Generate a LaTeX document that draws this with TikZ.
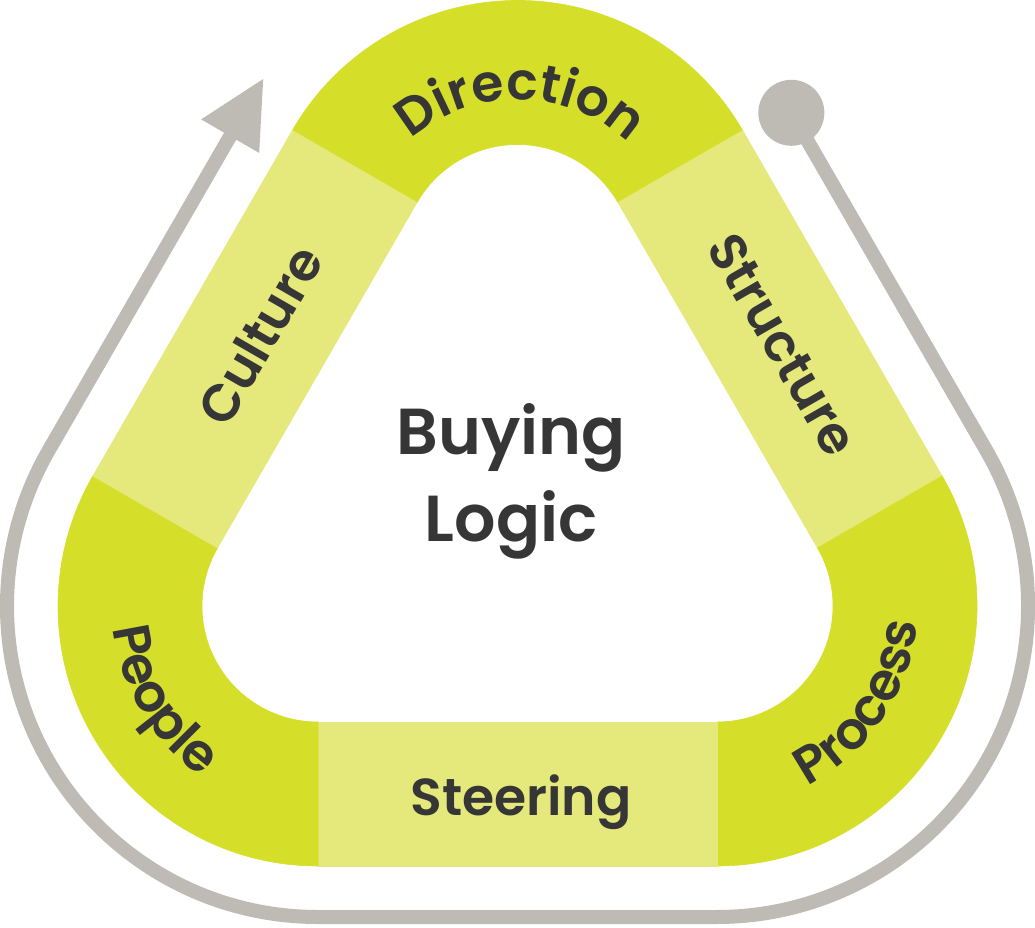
\documentclass[tikz,border=0pt]{standalone}
\usepackage{fontspec}
\setmainfont{Poppins}[BoldFont={Poppins SemiBold}]
\usetikzlibrary{calc,decorations.text}
\definecolor{limedark}{RGB}{213,223,42}
\definecolor{limelight}{RGB}{229,232,122}
\definecolor{ringgray}{RGB}{190,187,180}
\definecolor{txt}{RGB}{54,54,54}
\newcommand\lblfont{\bfseries\fontsize{52}{60}\selectfont}
\newcommand\titlefont{\bfseries\fontsize{65}{80}\selectfont}
\begin{document}
\begin{tikzpicture}[x=1pt,y=1pt,
  darkseg/.style={fill=limedark,draw=limedark,line width=0.6pt},
  lightseg/.style={fill=limelight,draw=limelight,line width=0.6pt},
  lbl/.style={text=txt,font=\lblfont,inner sep=0pt},
  title/.style={text=txt,font=\titlefont,inner sep=0pt},
  ring/.style={draw=ringgray,line width=14pt},
  curved/.style={decorate,decoration={text along path,text={|\lblfont|#1},text align=center,text color=txt}}
]
\useasboundingbox (0,0) rectangle (1035,927);
\coordinate (T) at (517.5,666.5);
\coordinate (BL) at (318,321);
\coordinate (BR) at (717,321);

% band segments
% top corner: Direction
\path[darkseg] ($(T)+(150:260pt)$) arc[start angle=150,end angle=30,radius=260pt]
  -- ($(T)+(30:116pt)$) arc[start angle=30,end angle=150,radius=116pt] -- cycle;
% right side: Structure
\path[lightseg] ($(T)+(30:116pt)$) -- ($(T)+(30:260pt)$) -- ($(BR)+(30:260pt)$) -- ($(BR)+(30:116pt)$) -- cycle;
% bottom-right corner: Process
\path[darkseg] ($(BR)+(30:260pt)$) arc[start angle=30,end angle=-90,radius=260pt]
  -- ($(BR)+(-90:116pt)$) arc[start angle=-90,end angle=30,radius=116pt] -- cycle;
% bottom side: Steering
\path[lightseg] ($(BR)+(-90:116pt)$) -- ($(BR)+(-90:260pt)$) -- ($(BL)+(-90:260pt)$) -- ($(BL)+(-90:116pt)$) -- cycle;
% bottom-left corner: People
\path[darkseg] ($(BL)+(270:260pt)$) arc[start angle=270,end angle=150,radius=260pt]
  -- ($(BL)+(150:116pt)$) arc[start angle=150,end angle=270,radius=116pt] -- cycle;
% left side: Culture
\path[lightseg] ($(BL)+(150:116pt)$) -- ($(BL)+(150:260pt)$) -- ($(T)+(150:260pt)$) -- ($(T)+(150:116pt)$) -- cycle;

% outer gray cycle line
\coordinate (C) at ($(T)+(30:311pt)+(300:9pt)$);
\coordinate (L) at ($(T)+(150:311pt)$);
\coordinate (AB) at ($(L)+(240:36pt)$);
\coordinate (AT) at ($(L)+(60:30pt)$);
\coordinate (A1) at ($(AB)+(150:33.5pt)$);
\coordinate (A2) at ($(AB)+(330:33.5pt)$);
\draw[ring] (C) -- ($(BR)+(30:311pt)$) arc[start angle=30,end angle=-90,radius=311pt]
  -- ($(BL)+(270:311pt)$) arc[start angle=270,end angle=150,radius=311pt] -- ($(AB)+(60:2pt)$);
\fill[ringgray] (A1) -- (AT) -- (A2) -- cycle;
\fill[ringgray] (C) circle[radius=33pt];

% straight labels
\node[lbl,rotate=60] (culture) at (260,592) {Culture};
\node[lbl,rotate=-60] (structure) at (783,582) {Structure};
\node[lbl,anchor=base] (steering) at (521,112) {Steering};
\node[title,anchor=base] (buying) at (511,472) {Buying};
\node[title,anchor=base] (logic) at (511,385) {Logic};

% curved labels
\path[curved=Direction] ($(T)+(149:161pt)$) arc[start angle=149,end angle=29,radius=161pt];
\path[curved=People] ($(BL)+(151:206pt)$) arc[start angle=151,end angle=271,radius=206pt];
\path[curved=Process] ($(BR)+(266:201pt)$) arc[start angle=266,end angle=386,radius=201pt];
\end{tikzpicture}
\end{document}
